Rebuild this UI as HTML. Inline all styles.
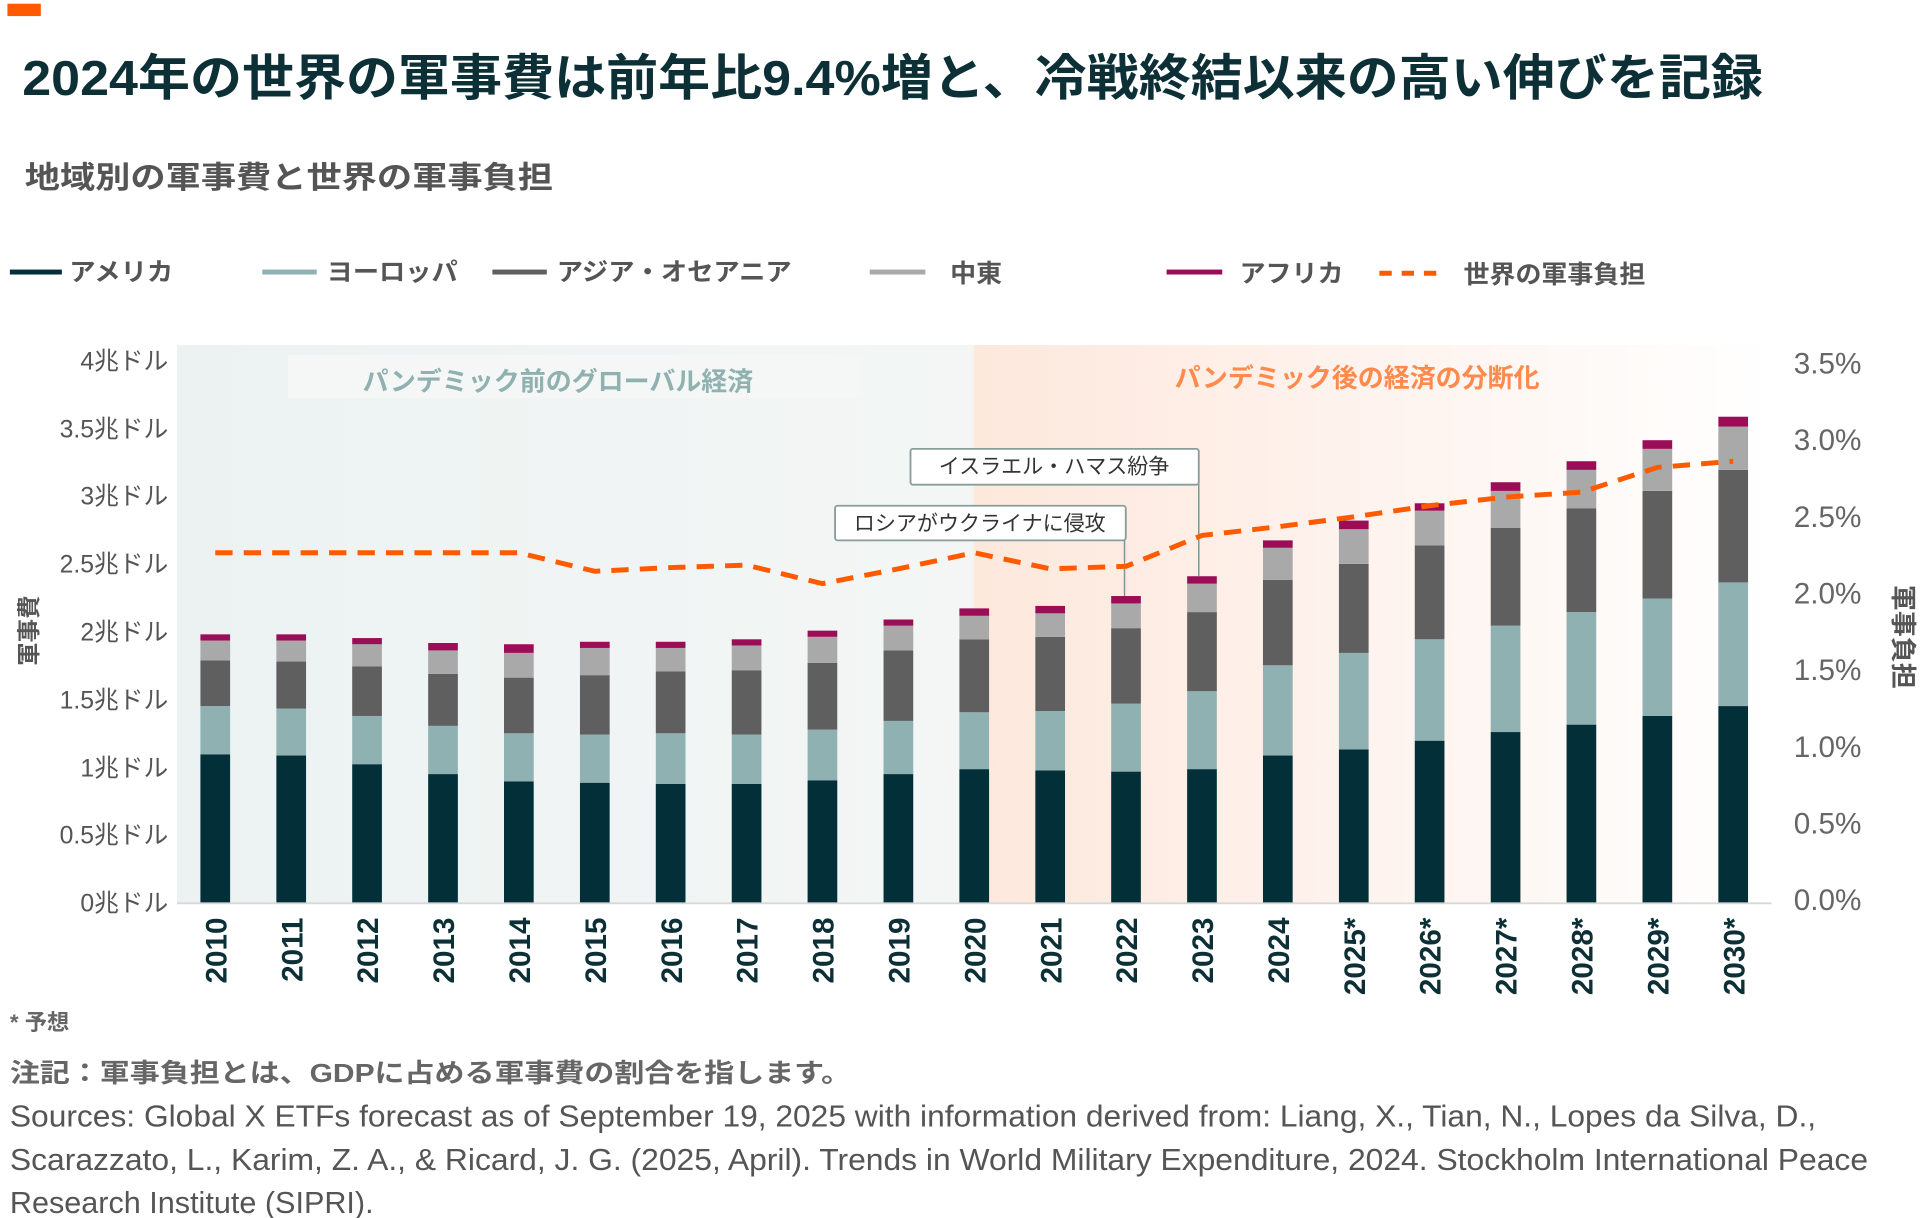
<!DOCTYPE html>
<html><head><meta charset="utf-8"><style>
html,body{margin:0;padding:0;background:#fff;}
svg{display:block;}
text{font-family:"Liberation Sans","Noto Sans CJK JP",sans-serif;}
</style></head><body>
<svg width="1920" height="1218" viewBox="0 0 1552 985" preserveAspectRatio="none" xmlns="http://www.w3.org/2000/svg">
<defs>
<linearGradient id="post" x1="0" x2="1" y1="0" y2="0">
<stop offset="0" stop-color="#fde8dc"/><stop offset="0.5" stop-color="#fef3ee"/><stop offset="1" stop-color="#ffffff"/>
</linearGradient>
<linearGradient id="pre" x1="0" x2="1" y1="0" y2="0">
<stop offset="0" stop-color="#ecf2f2"/><stop offset="1" stop-color="#f3f6f5"/>
</linearGradient>
</defs>
<rect x="6" y="3" width="27" height="10" fill="#ff5a00"/>
<text x="18" y="77" font-size="40" font-weight="bold" fill="#0d3037" textLength="1407" lengthAdjust="spacingAndGlyphs">2024年の世界の軍事費は前年比9.4%増と、冷戦終結以来の高い伸びを記録</text>
<text x="20" y="152" font-size="25" font-weight="bold" fill="#555" textLength="427" lengthAdjust="spacingAndGlyphs">地域別の軍事費と世界の軍事負担</text>

<!-- legend -->
<g font-size="20" font-weight="bold" fill="#555">
<rect x="8" y="218" width="42" height="4" fill="#022f38"/><text x="56" y="227" textLength="84" lengthAdjust="spacingAndGlyphs">アメリカ</text>
<rect x="212" y="218" width="44" height="4" fill="#8fb1b1"/><text x="264" y="227" textLength="106" lengthAdjust="spacingAndGlyphs">ヨーロッパ</text>
<rect x="398" y="218" width="44" height="4" fill="#5f5f5f"/><text x="450" y="227" textLength="190" lengthAdjust="spacingAndGlyphs">アジア・オセアニア</text>
<rect x="703" y="218" width="45" height="4" fill="#a9a9a9"/><text x="768" y="228" textLength="42" lengthAdjust="spacingAndGlyphs">中東</text>
<rect x="943" y="218" width="45" height="4" fill="#9b0e57"/><text x="1002" y="228" textLength="84" lengthAdjust="spacingAndGlyphs">アフリカ</text>
<line x1="1115" y1="221" x2="1165" y2="221" stroke="#ff5a00" stroke-width="4" stroke-dasharray="10,8"/><text x="1183" y="229" textLength="147" lengthAdjust="spacingAndGlyphs">世界の軍事負担</text>
</g>

<!-- backgrounds -->
<rect x="143" y="279" width="644" height="451" fill="url(#pre)"/>
<rect x="787" y="279" width="645" height="451" fill="url(#post)"/>
<rect x="233" y="287" width="464" height="35" fill="#f4f7f6"/>
<text x="451" y="316" font-size="21" font-weight="bold" fill="#8fb2b0" text-anchor="middle">パンデミック前のグローバル経済</text>
<text x="1097" y="313" font-size="21" font-weight="bold" fill="#ff8a4c" text-anchor="middle">パンデミック後の経済の分断化</text>

<!-- left axis -->
<g font-size="20" fill="#555" text-anchor="end">
<text x="136" y="737">0兆ドル</text>
<text x="136" y="682">0.5兆ドル</text>
<text x="136" y="628">1兆ドル</text>
<text x="136" y="573">1.5兆ドル</text>
<text x="136" y="518">2兆ドル</text>
<text x="136" y="463">2.5兆ドル</text>
<text x="136" y="408">3兆ドル</text>
<text x="136" y="354">3.5兆ドル</text>
<text x="136" y="299">4兆ドル</text>
</g>
<text transform="translate(30,510) rotate(-90)" font-size="19" font-weight="bold" fill="#555" text-anchor="middle">軍事費</text>
<!-- right axis -->
<g font-size="24" fill="#666">
<text x="1450" y="736">0.0%</text>
<text x="1450" y="674">0.5%</text>
<text x="1450" y="612">1.0%</text>
<text x="1450" y="550">1.5%</text>
<text x="1450" y="488">2.0%</text>
<text x="1450" y="426">2.5%</text>
<text x="1450" y="364">3.0%</text>
<text x="1450" y="302">3.5%</text>
</g>
<text transform="translate(1531,515) rotate(90)" font-size="21" font-weight="bold" fill="#555" text-anchor="middle">軍事負担</text>

<!-- bars -->
<g>
<g transform="translate(162,0)"><rect y="610" width="24" height="120" fill="#022f38"/><rect y="571" width="24" height="39" fill="#8fb1b1"/><rect y="534" width="24" height="37" fill="#5f5f5f"/><rect y="518" width="24" height="16" fill="#a9a9a9"/><rect y="513" width="24" height="5" fill="#9b0e57"/></g>
<g transform="translate(223.4,0)"><rect y="611" width="24" height="119" fill="#022f38"/><rect y="573" width="24" height="38" fill="#8fb1b1"/><rect y="535" width="24" height="38" fill="#5f5f5f"/><rect y="518" width="24" height="17" fill="#a9a9a9"/><rect y="513" width="24" height="5" fill="#9b0e57"/></g>
<g transform="translate(284.7,0)"><rect y="618" width="24" height="112" fill="#022f38"/><rect y="579" width="24" height="39" fill="#8fb1b1"/><rect y="539" width="24" height="40" fill="#5f5f5f"/><rect y="521" width="24" height="18" fill="#a9a9a9"/><rect y="516" width="24" height="5" fill="#9b0e57"/></g>
<g transform="translate(346.1,0)"><rect y="626" width="24" height="104" fill="#022f38"/><rect y="587" width="24" height="39" fill="#8fb1b1"/><rect y="545" width="24" height="42" fill="#5f5f5f"/><rect y="526" width="24" height="19" fill="#a9a9a9"/><rect y="520" width="24" height="6" fill="#9b0e57"/></g>
<g transform="translate(407.4,0)"><rect y="632" width="24" height="98" fill="#022f38"/><rect y="593" width="24" height="39" fill="#8fb1b1"/><rect y="548" width="24" height="45" fill="#5f5f5f"/><rect y="528" width="24" height="20" fill="#a9a9a9"/><rect y="521" width="24" height="7" fill="#9b0e57"/></g>
<g transform="translate(468.8,0)"><rect y="633" width="24" height="97" fill="#022f38"/><rect y="594" width="24" height="39" fill="#8fb1b1"/><rect y="546" width="24" height="48" fill="#5f5f5f"/><rect y="524" width="24" height="22" fill="#a9a9a9"/><rect y="519" width="24" height="5" fill="#9b0e57"/></g>
<g transform="translate(530.1,0)"><rect y="634" width="24" height="96" fill="#022f38"/><rect y="593" width="24" height="41" fill="#8fb1b1"/><rect y="543" width="24" height="50" fill="#5f5f5f"/><rect y="524" width="24" height="19" fill="#a9a9a9"/><rect y="519" width="24" height="5" fill="#9b0e57"/></g>
<g transform="translate(591.5,0)"><rect y="634" width="24" height="96" fill="#022f38"/><rect y="594" width="24" height="40" fill="#8fb1b1"/><rect y="542" width="24" height="52" fill="#5f5f5f"/><rect y="522" width="24" height="20" fill="#a9a9a9"/><rect y="517" width="24" height="5" fill="#9b0e57"/></g>
<g transform="translate(652.8,0)"><rect y="631" width="24" height="99" fill="#022f38"/><rect y="590" width="24" height="41" fill="#8fb1b1"/><rect y="536" width="24" height="54" fill="#5f5f5f"/><rect y="515" width="24" height="21" fill="#a9a9a9"/><rect y="510" width="24" height="5" fill="#9b0e57"/></g>
<g transform="translate(714.2,0)"><rect y="626" width="24" height="104" fill="#022f38"/><rect y="583" width="24" height="43" fill="#8fb1b1"/><rect y="526" width="24" height="57" fill="#5f5f5f"/><rect y="506" width="24" height="20" fill="#a9a9a9"/><rect y="501" width="24" height="5" fill="#9b0e57"/></g>
<g transform="translate(775.5,0)"><rect y="622" width="24" height="108" fill="#022f38"/><rect y="576" width="24" height="46" fill="#8fb1b1"/><rect y="517" width="24" height="59" fill="#5f5f5f"/><rect y="498" width="24" height="19" fill="#a9a9a9"/><rect y="492" width="24" height="6" fill="#9b0e57"/></g>
<g transform="translate(836.9,0)"><rect y="623" width="24" height="107" fill="#022f38"/><rect y="575" width="24" height="48" fill="#8fb1b1"/><rect y="515" width="24" height="60" fill="#5f5f5f"/><rect y="496" width="24" height="19" fill="#a9a9a9"/><rect y="490" width="24" height="6" fill="#9b0e57"/></g>
<g transform="translate(898.2,0)"><rect y="624" width="24" height="106" fill="#022f38"/><rect y="569" width="24" height="55" fill="#8fb1b1"/><rect y="508" width="24" height="61" fill="#5f5f5f"/><rect y="488" width="24" height="20" fill="#a9a9a9"/><rect y="482" width="24" height="6" fill="#9b0e57"/></g>
<g transform="translate(959.6,0)"><rect y="622" width="24" height="108" fill="#022f38"/><rect y="559" width="24" height="63" fill="#8fb1b1"/><rect y="495" width="24" height="64" fill="#5f5f5f"/><rect y="472" width="24" height="23" fill="#a9a9a9"/><rect y="466" width="24" height="6" fill="#9b0e57"/></g>
<g transform="translate(1020.9,0)"><rect y="611" width="24" height="119" fill="#022f38"/><rect y="538" width="24" height="73" fill="#8fb1b1"/><rect y="469" width="24" height="69" fill="#5f5f5f"/><rect y="443" width="24" height="26" fill="#a9a9a9"/><rect y="437" width="24" height="6" fill="#9b0e57"/></g>
<g transform="translate(1082.3,0)"><rect y="606" width="24" height="124" fill="#022f38"/><rect y="528" width="24" height="78" fill="#8fb1b1"/><rect y="456" width="24" height="72" fill="#5f5f5f"/><rect y="428" width="24" height="28" fill="#a9a9a9"/><rect y="421" width="24" height="7" fill="#9b0e57"/></g>
<g transform="translate(1143.6,0)"><rect y="599" width="24" height="131" fill="#022f38"/><rect y="517" width="24" height="82" fill="#8fb1b1"/><rect y="441" width="24" height="76" fill="#5f5f5f"/><rect y="413" width="24" height="28" fill="#a9a9a9"/><rect y="407" width="24" height="6" fill="#9b0e57"/></g>
<g transform="translate(1205,0)"><rect y="592" width="24" height="138" fill="#022f38"/><rect y="506" width="24" height="86" fill="#8fb1b1"/><rect y="427" width="24" height="79" fill="#5f5f5f"/><rect y="397" width="24" height="30" fill="#a9a9a9"/><rect y="390" width="24" height="7" fill="#9b0e57"/></g>
<g transform="translate(1266.3,0)"><rect y="586" width="24" height="144" fill="#022f38"/><rect y="495" width="24" height="91" fill="#8fb1b1"/><rect y="411" width="24" height="84" fill="#5f5f5f"/><rect y="380" width="24" height="31" fill="#a9a9a9"/><rect y="373" width="24" height="7" fill="#9b0e57"/></g>
<g transform="translate(1327.7,0)"><rect y="579" width="24" height="151" fill="#022f38"/><rect y="484" width="24" height="95" fill="#8fb1b1"/><rect y="397" width="24" height="87" fill="#5f5f5f"/><rect y="363" width="24" height="34" fill="#a9a9a9"/><rect y="356" width="24" height="7" fill="#9b0e57"/></g>
<g transform="translate(1389,0)"><rect y="571" width="24" height="159" fill="#022f38"/><rect y="471" width="24" height="100" fill="#8fb1b1"/><rect y="380" width="24" height="91" fill="#5f5f5f"/><rect y="345" width="24" height="35" fill="#a9a9a9"/><rect y="337" width="24" height="8" fill="#9b0e57"/></g>
</g>
<line x1="143" y1="730.5" x2="1432" y2="730.5" stroke="#d8d8d8" stroke-width="1.5"/>

<!-- annotations -->
<line x1="969" y1="391" x2="969" y2="466" stroke="#7f9494" stroke-width="1.2"/>
<line x1="909" y1="437" x2="909" y2="482" stroke="#7f9494" stroke-width="1.2"/>
<rect x="736" y="363" width="233" height="29" rx="2" fill="#fff" stroke="#8a9c9c" stroke-width="1.5"/>
<text x="852" y="383" font-size="17" fill="#333" text-anchor="middle">イスラエル・ハマス紛争</text>
<rect x="675" y="409" width="235" height="28" rx="2" fill="#fff" stroke="#8a9c9c" stroke-width="1.5"/>
<text x="792" y="429" font-size="17" fill="#333" text-anchor="middle">ロシアがウクライナに侵攻</text>

<!-- burden line -->
<polyline fill="none" stroke="#ff5a00" stroke-width="4" stroke-dasharray="14,9" points="174,447 235.4,447 296.7,447 358.1,447 419.4,447 480.8,462 542.1,459 603.5,457 664.8,472 726.2,460 787.5,447 848.9,460 910.2,458 971.6,433 1032.9,426 1094.3,418 1155.6,409 1217,402 1278.3,398 1339.7,378 1401,373"/>

<!-- year labels -->
<g font-size="24" font-weight="bold" fill="#0d3037" text-anchor="end">
<text transform="translate(183,742) rotate(-90)">2010</text>
<text transform="translate(244.4,742) rotate(-90)">2011</text>
<text transform="translate(305.7,742) rotate(-90)">2012</text>
<text transform="translate(367.1,742) rotate(-90)">2013</text>
<text transform="translate(428.4,742) rotate(-90)">2014</text>
<text transform="translate(489.8,742) rotate(-90)">2015</text>
<text transform="translate(551.1,742) rotate(-90)">2016</text>
<text transform="translate(612.5,742) rotate(-90)">2017</text>
<text transform="translate(673.8,742) rotate(-90)">2018</text>
<text transform="translate(735.2,742) rotate(-90)">2019</text>
<text transform="translate(796.5,742) rotate(-90)">2020</text>
<text transform="translate(857.9,742) rotate(-90)">2021</text>
<text transform="translate(919.2,742) rotate(-90)">2022</text>
<text transform="translate(980.6,742) rotate(-90)">2023</text>
<text transform="translate(1041.9,742) rotate(-90)">2024</text>
<text transform="translate(1103.3,742) rotate(-90)">2025*</text>
<text transform="translate(1164.6,742) rotate(-90)">2026*</text>
<text transform="translate(1226,742) rotate(-90)">2027*</text>
<text transform="translate(1287.3,742) rotate(-90)">2028*</text>
<text transform="translate(1348.7,742) rotate(-90)">2029*</text>
<text transform="translate(1410,742) rotate(-90)">2030*</text>
</g>

<!-- footer -->
<text x="8" y="833" font-size="18" font-weight="bold" fill="#666">* 予想</text>
<text x="8" y="875" font-size="21" font-weight="bold" fill="#666" textLength="680" lengthAdjust="spacingAndGlyphs">注記：軍事負担とは、GDPに占める軍事費の割合を指します。</text>
<g font-size="25" fill="#555">
<text x="8" y="911" textLength="1460" lengthAdjust="spacingAndGlyphs">Sources: Global X ETFs forecast as of September 19, 2025 with information derived from: Liang, X., Tian, N., Lopes da Silva, D.,</text>
<text x="8" y="946" textLength="1502" lengthAdjust="spacingAndGlyphs">Scarazzato, L., Karim, Z. A., &amp; Ricard, J. G. (2025, April). Trends in World Military Expenditure, 2024. Stockholm International Peace</text>
<text x="8" y="981" textLength="294" lengthAdjust="spacingAndGlyphs">Research Institute (SIPRI).</text>
</g>
</svg>
</body></html>
